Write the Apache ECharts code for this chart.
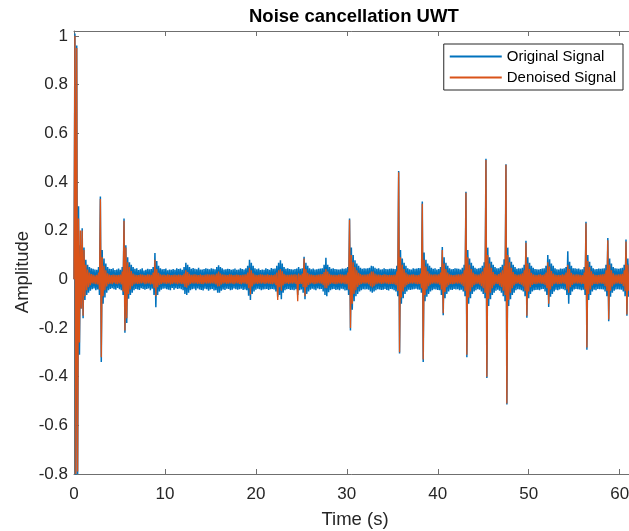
<!DOCTYPE html>
<html>
<head>
<meta charset="utf-8">
<script src="https://cdn.jsdelivr.net/npm/echarts@6/dist/echarts.min.js"></script>
<style>html,body{margin:0;padding:0;background:#fff}#c{width:629px;height:531px}</style>
</head>
<body>
<div id="c"></div>
<script>
const sampleStep = 0.1; // seconds between samples
const seriesNames = ['Original Signal', 'Denoised Signal'];
const origSignal = [
0,1.01,-.81,.96,-.8,.3,-.31,.14,-.12,.21,
-.16,.13,-.085,.08,-.065,.06,-.055,.05,-.047,.045,
-.041,.043,-.038,.04,-.045,.039,-.042,.05,-.065,.34,
-.34,.12,-.1,.085,-.075,.065,-.055,.05,-.045,.043,
-.04,.042,-.037,.045,-.041,.038,-.043,.04,-.036,.044,
-.041,.039,-.045,.05,-.065,.25,-.22,.14,-.18,.09,
-.08,.07,-.065,.06,-.055,.05,-.045,.043,-.04,.045,
-.042,.038,-.044,.041,-.037,.045,-.04,.036,-.043,.039,
-.04,.043,-.038,.041,-.045,.042,-.039,.05,-.065,.108,
-.115,.075,-.065,.055,-.05,.045,-.043,.041,-.039,.042,
-.038,.044,-.041,.037,-.043,.04,-.045,.039,-.036,.042,
-.043,.039,-.037,.045,-.04,.042,-.038,.044,-.041,.039,
-.045,.05,-.06,.068,-.065,.06,-.055,.05,-.045,.043,
-.041,.046,-.039,.043,-.045,.041,-.038,.047,-.042,.04,
-.044,.04,-.046,.042,-.039,.045,-.041,.043,-.047,.041,
-.042,.045,-.04,.043,-.046,.041,-.045,.05,-.055,.058,
-.055,.05,-.047,.045,-.042,.04,-.044,.041,-.039,.043,
-.04,.042,-.045,.039,-.043,.041,-.038,.044,-.041,.039,
-.043,.04,-.041,.045,-.039,.042,-.044,.04,-.042,.045,
-.045,.055,-.068,.08,-.085,.068,-.06,.055,-.05,.045,
-.043,.041,-.039,.044,-.041,.038,-.045,.04,-.042,.039,
-.041,.045,-.04,.042,-.044,.039,-.041,.046,-.04,.043,
-.042,.044,-.05,.055,-.072,.068,-.065,.078,-.082,.065,
-.055,.05,-.045,.043,-.041,.045,-.04,.042,-.044,.041,
-.043,.04,-.045,.042,-.041,.044,-.065,.05,-.045,.043,
-.042,.045,-.055,.092,-.082,.068,-.06,.055,-.05,.045,
-.043,.041,-.039,.044,-.042,.04,-.045,.041,-.038,.043,
-.041,.044,-.04,.045,-.05,.06,-.065,.088,-.07,.06,
-.053,.05,-.045,.043,-.041,.045,-.04,.042,-.044,.041,
-.042,.04,-.045,.041,-.039,.044,-.041,.043,-.046,.045,
-.045,.05,-.065,.25,-.21,.13,-.125,.1,-.09,.078,
-.07,.065,-.06,.055,-.05,.047,-.045,.043,-.041,.045,
-.042,.044,-.041,.045,-.043,.047,-.05,.055,-.055,.053,
-.05,.047,-.045,.043,-.041,.045,-.042,.04,-.044,.041,
-.043,.045,-.04,.042,-.044,.041,-.046,.043,-.04,.044,
-.041,.043,-.045,.042,-.05,.055,-.07,.445,-.305,.12,
-.1,.085,-.078,.068,-.06,.055,-.05,.045,-.043,.041,
-.044,.04,-.042,.045,-.041,.043,-.039,.044,-.042,.046,
-.043,.045,-.055,.32,-.34,.11,-.09,.08,-.072,.065,
-.06,.055,-.05,.047,-.045,.043,-.041,.045,-.042,.04,
-.044,.042,-.045,.05,-.065,.133,-.148,.09,-.078,.068,
-.06,.055,-.05,.045,-.043,.041,-.044,.042,-.04,.045,
-.042,.044,-.041,.043,-.045,.04,-.043,.047,-.05,.06,
-.07,.36,-.32,.12,-.1,.085,-.078,.068,-.06,.055,
-.05,.047,-.045,.043,-.041,.045,-.043,.047,-.05,.055,
-.06,.07,-.078,.495,-.406,.13,-.11,.09,-.082,.072,
-.065,.06,-.055,.05,-.047,.045,-.043,.045,-.047,.05,
-.055,.06,-.07,.082,-.09,.473,-.514,.13,-.11,.09,
-.082,.072,-.065,.06,-.055,.05,-.045,.043,-.041,.045,
-.042,.044,-.045,.047,-.05,.06,-.07,.158,-.158,.09,
-.078,.068,-.06,.055,-.05,.047,-.045,.042,-.044,.041,
-.043,.04,-.045,.042,-.041,.044,-.04,.045,-.05,.055,
-.065,.1,-.114,.082,-.072,.065,-.06,.055,-.05,.045,
-.043,.041,-.045,.04,-.042,.044,-.039,.043,-.041,.045,
-.045,.05,-.065,.115,-.1,.072,-.065,.055,-.05,.045,
-.042,.045,-.04,.043,-.041,.044,-.042,.04,-.045,.041,
-.043,.05,-.065,.236,-.29,.1,-.085,.072,-.065,.055,
-.05,.045,-.043,.041,-.045,.042,-.04,.044,-.041,.043,
-.041,.044,-.042,.045,-.05,.06,-.07,.17,-.172,.085,
-.072,.065,-.055,.05,-.047,.045,-.042,.044,-.041,.043,
-.042,.045,-.043,.047,-.05,.06,-.07,.163,-.15,.085,
-.072,.065,-.055,.05,-.047,.045,-.042,.044,-.041
];
const denoisedSignal = [
0,1,-.8,.95,-.79,.25,-.26,.2,-.12,.2,
-.15,.12,-.07,.06,-.045,.04,-.033,.028,-.024,.021,
-.017,.019,-.018,.016,-.02,.018,-.021,.028,-.042,.33,
-.32,.09,-.07,.055,-.045,.037,-.03,.025,-.02,.019,
-.018,.017,-.02,.019,-.016,.018,-.019,.017,-.02,.018,
-.017,.019,-.021,.032,-.05,.24,-.21,.13,-.16,.07,
-.06,.05,-.042,.034,-.028,.024,-.021,.019,-.018,.017,
-.019,.017,-.018,.02,-.017,.019,-.016,.018,-.02,.017,
-.018,.02,-.017,.019,-.021,.018,-.02,.028,-.037,.08,
-.07,.042,-.033,.027,-.023,.02,-.019,.018,-.017,.019,
-.018,.017,-.019,.02,-.017,.018,-.021,.017,-.019,.018,
-.017,.019,-.018,.017,-.02,.019,-.017,.018,-.019,.017,
-.02,.024,-.032,.037,-.035,.03,-.025,.022,-.019,.018,
-.017,.019,-.018,.02,-.017,.018,-.019,.017,-.018,.02,
-.019,.017,-.02,.018,-.017,.019,-.018,.02,-.017,.019,
-.018,.019,-.017,.02,-.018,.019,-.021,.024,-.03,.032,
-.028,.024,-.021,.019,-.018,.019,-.017,.018,-.019,.017,
-.018,.02,-.017,.019,-.018,.017,-.02,.018,-.017,.019,
-.017,.018,-.019,.017,-.02,.018,-.017,.019,-.018,.02,
-.02,.028,-.037,.047,-.062,.037,-.03,.025,-.021,.019,
-.018,.017,-.019,.018,-.017,.02,-.018,.019,-.017,.018,
-.019,.018,-.017,.02,-.018,.017,-.019,.018,-.02,.017,
-.018,.02,-.024,.028,-.085,.037,-.033,.042,-.047,.033,
-.025,.022,-.019,.018,-.017,.018,-.019,.018,-.017,.019,
-.018,.019,-.017,.02,-.019,.018,-.09,.024,-.019,.018,
-.019,.024,-.032,.085,-.07,.042,-.033,.027,-.023,.02,
-.018,.019,-.017,.018,-.02,.017,-.019,.018,-.017,.019,
-.017,.02,-.018,.021,-.024,.03,-.037,.042,-.037,.032,
-.025,.022,-.019,.018,-.017,.018,-.019,.018,-.02,.017,
-.018,.019,-.017,.02,-.018,.019,-.017,.018,-.02,.019,
-.02,.028,-.042,.245,-.2,.1,-.1,.07,-.06,.05,
-.045,.037,-.032,.027,-.023,.021,-.019,.018,-.017,.019,
-.018,.019,-.017,.02,-.02,.024,-.028,.032,-.034,.032,
-.028,.024,-.021,.019,-.018,.019,-.017,.018,-.019,.017,
-.018,.02,-.017,.019,-.018,.017,-.02,.018,-.019,.017,
-.019,.018,-.02,.019,-.024,.032,-.047,.44,-.3,.09,
-.075,.06,-.05,.042,-.033,.028,-.024,.02,-.019,.018,
-.017,.019,-.018,.02,-.017,.018,-.019,.017,-.02,.018,
-.019,.024,-.037,.31,-.33,.08,-.065,.052,-.042,.033,
-.028,.024,-.021,.019,-.018,.019,-.017,.02,-.018,.019,
-.018,.02,-.022,.028,-.042,.12,-.14,.065,-.052,.042,
-.033,.028,-.024,.02,-.019,.018,-.02,.017,-.019,.018,
-.017,.019,-.018,.02,-.017,.019,-.021,.024,-.028,.037,
-.047,.355,-.31,.09,-.075,.06,-.05,.042,-.033,.028,
-.024,.021,-.02,.019,-.018,.019,-.021,.024,-.028,.032,
-.037,.047,-.055,.49,-.4,.1,-.08,.065,-.055,.047,
-.037,.03,-.025,.021,-.019,.018,-.019,.021,-.025,.028,
-.032,.037,-.047,.055,-.065,.47,-.51,.1,-.085,.07,
-.055,.047,-.037,.03,-.025,.021,-.019,.018,-.017,.019,
-.019,.02,-.022,.025,-.03,.037,-.047,.15,-.15,.065,
-.05,.042,-.033,.027,-.023,.02,-.019,.018,-.02,.017,
-.018,.019,-.017,.02,-.018,.017,-.019,.02,-.024,.028,
-.037,.07,-.1,.052,-.042,.034,-.028,.024,-.02,.019,
-.018,.017,-.02,.018,-.019,.017,-.018,.02,-.017,.019,
-.02,.028,-.042,.06,-.055,.042,-.033,.027,-.023,.02,
-.018,.019,-.017,.02,-.018,.019,-.017,.018,-.02,.017,
-.019,.028,-.042,.23,-.28,.075,-.06,.05,-.042,.033,
-.025,.022,-.019,.018,-.019,.017,-.02,.018,-.017,.019,
-.018,.02,-.019,.022,-.028,.037,-.047,.16,-.165,.06,
-.047,.037,-.03,.025,-.021,.019,-.018,.019,-.017,.02,
-.018,.02,-.019,.022,-.028,.037,-.047,.155,-.145,.06,
-.047,.037,-.03,.025,-.021,.019,-.018,.019,-.017
];
const yTickValues = [-0.8, -0.6, -0.4, -0.2, 0, 0.2, 0.4, 0.6, 0.8, 1];

const toPairs = arr => arr.map((v, i) => [Math.round(i * sampleStep * 10) / 10, v]);
const FONT = '"Liberation Sans", Arial, Helvetica, sans-serif';
const AXIS_COLOR = '#6f6f6f';
const TEXT_COLOR = '#262626';

const chart = echarts.init(document.getElementById('c'), null, {renderer: 'canvas'});
chart.setOption({
  animation: false,
  backgroundColor: '#fff',
  textStyle: {fontFamily: FONT},
  title: {
    text: 'Noise cancellation UWT',
    left: 249, top: 7,
    padding: 0,
    textStyle: {fontSize: 18.5, fontWeight: 'bold', color: '#000', fontFamily: FONT}
  },
  grid: {left: 74, top: 31, bottom: 57, right: -7, containLabel: false, outerBoundsMode: 'none'},
  legend: {
    data: seriesNames,
    orient: 'vertical',
    right: 6, top: 44,
    backgroundColor: '#fff',
    borderColor: '#262626', borderWidth: 1, borderRadius: 0,
    padding: [5, 7, 5, 5],
    itemWidth: 52, itemHeight: 14, itemGap: 6,
    itemStyle: {opacity: 0},
    textStyle: {fontSize: 15, color: '#000', fontFamily: FONT}
  },
  xAxis: [{
    type: 'value', min: 0, max: 61.8, interval: 10,
    position: 'bottom',
    name: 'Time (s)', nameLocation: 'middle', nameGap: 36,
    nameTextStyle: {fontSize: 18.5, color: TEXT_COLOR, fontFamily: FONT},
    axisLine: {show: true, onZero: false, lineStyle: {color: AXIS_COLOR, width: 1}},
    axisTick: {show: true, inside: true, length: 5, lineStyle: {color: AXIS_COLOR}},
    axisLabel: {fontSize: 17, color: TEXT_COLOR, margin: 12, fontFamily: FONT, showMaxLabel: false},
    splitLine: {show: false}
  }, {
    type: 'value', min: 0, max: 61.8, interval: 10,
    position: 'top',
    axisLine: {show: true, onZero: false, lineStyle: {color: AXIS_COLOR, width: 1}},
    axisTick: {show: true, inside: true, length: 5, lineStyle: {color: AXIS_COLOR}},
    axisLabel: {show: false},
    splitLine: {show: false}
  }],
  yAxis: {
    type: 'value', min: -0.8, max: 1.02, interval: 0.2,
    axisLine: {show: true, onZero: false, lineStyle: {color: AXIS_COLOR, width: 1}},
    axisTick: {show: true, inside: true, length: 5, lineStyle: {color: AXIS_COLOR}, customValues: yTickValues},
    axisLabel: {fontSize: 17, color: TEXT_COLOR, margin: 6, fontFamily: FONT, customValues: yTickValues},
    splitLine: {show: false}
  },
  graphic: [{
    type: 'text', x: 23, y: 272, rotation: Math.PI / 2,
    style: {text: 'Amplitude', fontSize: 18.5, fill: TEXT_COLOR, fontFamily: FONT, align: 'center', verticalAlign: 'middle'}
  }],
  series: [{
    name: seriesNames[0], type: 'line', xAxisIndex: 0,
    data: toPairs(origSignal),
    symbol: 'none', showSymbol: false,
    lineStyle: {color: '#0072BD', width: 1.5},
    itemStyle: {color: '#0072BD'},
    emphasis: {disabled: true}
  }, {
    name: seriesNames[1], type: 'line', xAxisIndex: 0,
    data: toPairs(denoisedSignal),
    symbol: 'none', showSymbol: false,
    lineStyle: {color: '#D95319', width: 1.3},
    itemStyle: {color: '#D95319'},
    emphasis: {disabled: true}
  }]
});
</script>
</body>
</html>
